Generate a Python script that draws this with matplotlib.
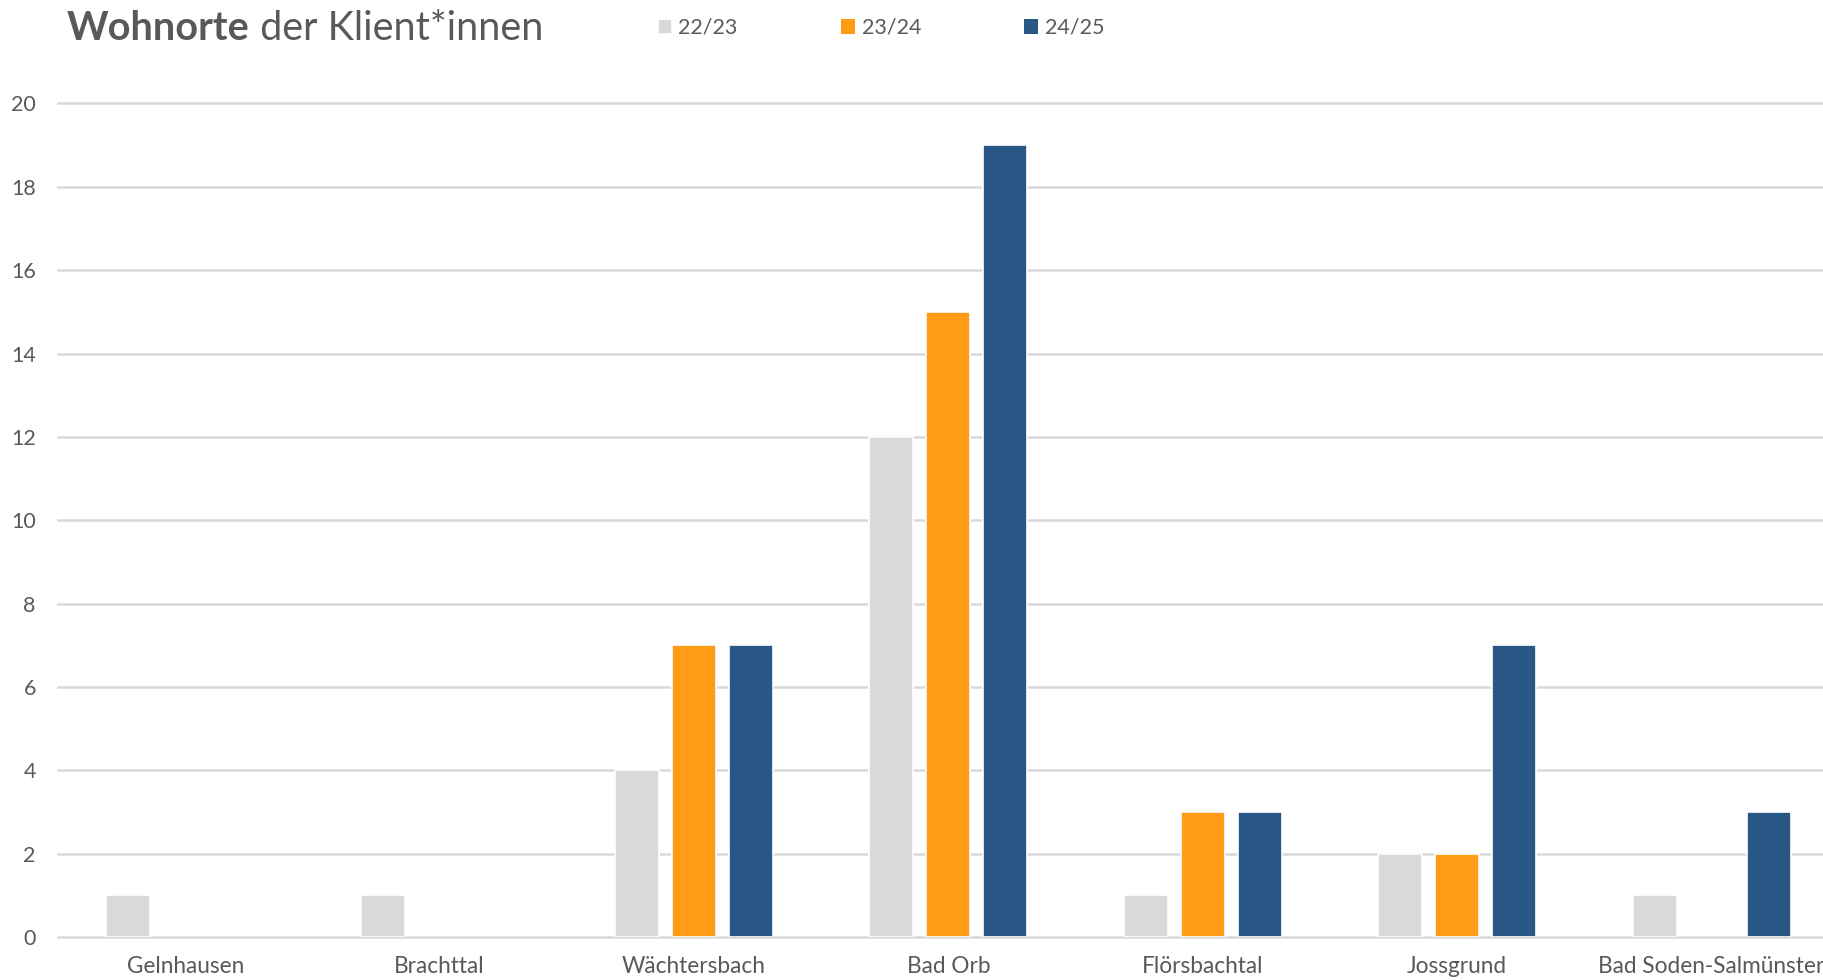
import matplotlib
matplotlib.use("Agg")
import matplotlib.pyplot as plt
import numpy as np

categories = ["Gelnhausen", "Brachttal", "Wächtersbach", "Bad Orb",
              "Flörsbachtal", "Jossgrund", "Bad Soden-Salmünster"]
series_names = ["22/23", "23/24", "24/25"]
v_2223 = [1, 1, 4, 12, 1, 2, 1]
v_2324 = [0, 0, 7, 15, 3, 2, 0]
v_2425 = [0, 0, 7, 19, 3, 7, 3]
y_ticks = [0, 2, 4, 6, 8, 10, 12, 14, 16, 18, 20]

colors = ["#D9D9D9", "#FF9B15", "#2A5886"]
text_color = "#595959"
grid_color = "#D9D9D9"

plt.rcParams['font.family'] = ['Lato', 'DejaVu Sans']

W, H = 1824, 980
fig = plt.figure(figsize=(W / 100, H / 100), dpi=100)
left_px, right_px = 58, 58 + 7 * 254.4
bottom_px, top_px = 937, 103.5
ax = fig.add_axes([left_px / W, 1 - bottom_px / H,
                   (right_px - left_px) / W, (bottom_px - top_px) / H])

x = np.arange(len(categories))
pitch = 0.224
width = 0.173
handles = []
for i, (vals, c, name) in enumerate(zip([v_2223, v_2324, v_2425], colors, series_names)):
    lws = [1.2 if v > 0 else 0 for v in vals]
    b = ax.bar(x + (i - 1) * pitch, vals, width, color=c, edgecolor="white",
               linewidth=lws, label=name, zorder=3)
    handles.append(b)

ax.set_xlim(-0.5, len(categories) - 0.5)
ax.set_ylim(0, 20)
ax.set_yticks(y_ticks)
ax.set_xticks(x)
ax.set_xticklabels(categories)
for s in ax.spines.values():
    s.set_visible(False)
ax.grid(axis="y", color=grid_color, linewidth=1.8, zorder=0)
ax.set_axisbelow(True)
ax.tick_params(axis="both", length=0, labelsize=15.5, colors=text_color)
ax.tick_params(axis="x", labelsize=16.3, pad=14)
ax.tick_params(axis="y", pad=16)
for gl in ax.get_ygridlines():
    gl.set_clip_on(False)

# Title
ty = 1 - 28 / H
t1 = fig.text(67 / W, ty, "Wohnorte", fontsize=28.5, fontweight="bold",
              color=text_color, va="center", ha="left")
fig.canvas.draw()
bb = t1.get_window_extent()
fig.text(bb.x1 / W, ty, " der Klient*innen", fontsize=28.5,
         color=text_color, va="center", ha="left")

leg = fig.legend(handles=handles, labels=series_names, loc="center left",
                 bbox_to_anchor=(658 / W, 1 - 28 / H), ncol=3, frameon=False,
                 fontsize=15.5, handlelength=0.65, handleheight=0.65,
                 handletextpad=0.3, columnspacing=4.8, borderpad=0,
                 borderaxespad=0, labelcolor=text_color)

fig.savefig("out.png", dpi=100)
